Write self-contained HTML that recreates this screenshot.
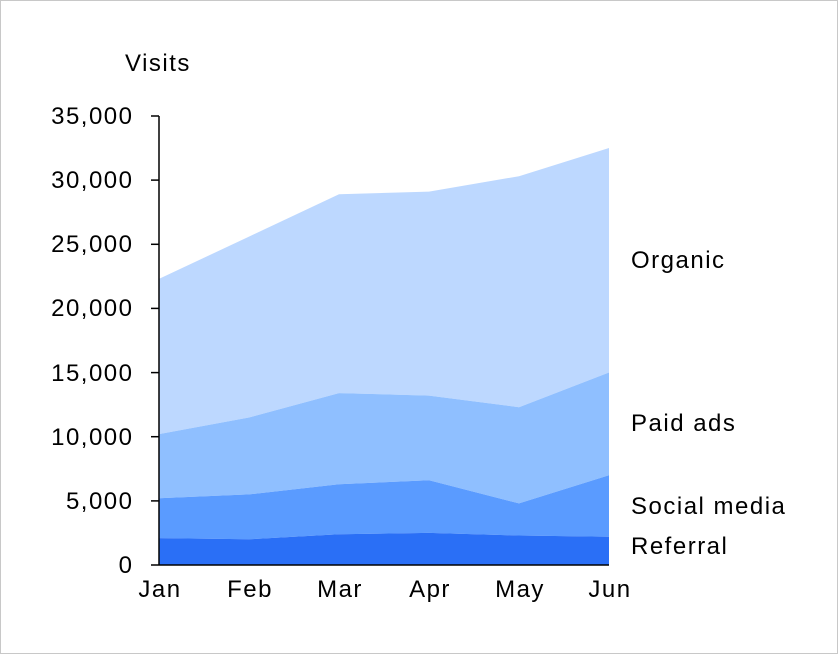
<!DOCTYPE html>
<html><head><meta charset="utf-8"><style>
html,body{margin:0;padding:0;background:#fff;}
svg{display:block;}
text{font-family:"Liberation Sans",sans-serif;font-size:24px;letter-spacing:1.5px;fill:#000;}
</style></head><body>
<svg width="838" height="654" viewBox="0 0 838 654">
<rect x="0.5" y="0.5" width="837" height="653" fill="#fff" stroke="#c8c8c8"/>
<polygon fill="#bdd8ff" points="159,278.9 249,236.6 339,194.2 429,191.6 519,176.2 609,148 609,372.5 519,407.2 429,395.6 339,393.1 249,417.5 159,434.1"/>
<polygon fill="#8fbfff" points="159,434.1 249,417.5 339,393.1 429,395.6 519,407.2 609,372.5 609,475.2 519,503.4 429,480.3 339,484.2 249,494.4 159,498.3"/>
<polygon fill="#5a9bff" points="159,498.3 249,494.4 339,484.2 429,480.3 519,503.4 609,475.2 609,536.8 519,535.5 429,532.9 339,534.2 249,539.3 159,538.1"/>
<polygon fill="#2a6ff6" points="159,538.1 249,539.3 339,534.2 429,532.9 519,535.5 609,536.8 609,565 159,565"/>
<g stroke="#000" stroke-width="1.5">
<line x1="159" y1="116" x2="159" y2="565"/>
<line x1="159" y1="565" x2="609" y2="565"/>
<line x1="151" y1="116" x2="159" y2="116"/>
<line x1="151" y1="180.1" x2="159" y2="180.1"/>
<line x1="151" y1="244.3" x2="159" y2="244.3"/>
<line x1="151" y1="308.4" x2="159" y2="308.4"/>
<line x1="151" y1="372.6" x2="159" y2="372.6"/>
<line x1="151" y1="436.7" x2="159" y2="436.7"/>
<line x1="151" y1="500.9" x2="159" y2="500.9"/>
<line x1="151" y1="565" x2="159" y2="565"/>
</g>
<text x="125" y="71">Visits</text>
<g text-anchor="end">
<text x="133.5" y="124">35,000</text>
<text x="133.5" y="188">30,000</text>
<text x="133.5" y="252">25,000</text>
<text x="133.5" y="316">20,000</text>
<text x="133.5" y="381">15,000</text>
<text x="133.5" y="445">10,000</text>
<text x="133.5" y="509">5,000</text>
<text x="133.5" y="573">0</text>
</g>
<g text-anchor="middle">
<text x="160" y="597">Jan</text>
<text x="250" y="597">Feb</text>
<text x="340" y="597">Mar</text>
<text x="430" y="597">Apr</text>
<text x="520" y="597">May</text>
<text x="610" y="597">Jun</text>
</g>
<text x="631" y="268">Organic</text>
<text x="631" y="431">Paid ads</text>
<text x="631" y="514">Social media</text>
<text x="631" y="554">Referral</text>
</svg>
</body></html>
